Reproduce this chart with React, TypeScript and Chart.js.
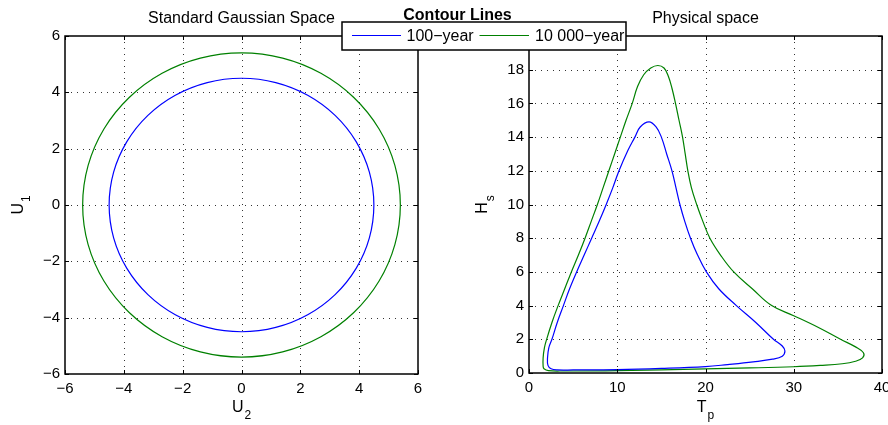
import { useEffect, useRef } from 'react';
import { Chart, registerables } from 'chart.js';

Chart.register(...registerables);

const W = 888;
const H = 425;
const FONT = "'Liberation Sans', Arial, Helvetica, sans-serif";

// Standard Gaussian space, 100-year contour (U2, U1), closed loop
const gauss100U2 = [4.5, 4.347, 3.897, 3.182, 2.25, 1.165, 0, -1.165, -2.25, -3.182, -3.897, -4.347, -4.5, -4.347, -3.897, -3.182, -2.25, -1.165, 0, 1.165, 2.25, 3.182, 3.897, 4.347];
const gauss100U1 = [0, 1.165, 2.25, 3.182, 3.897, 4.347, 4.5, 4.347, 3.897, 3.182, 2.25, 1.165, 0, -1.165, -2.25, -3.182, -3.897, -4.347, -4.5, -4.347, -3.897, -3.182, -2.25, -1.165];

// Standard Gaussian space, 10 000-year contour (U2, U1), closed loop
const gauss10kU2 = [5.4, 5.216, 4.677, 3.818, 2.7, 1.398, 0, -1.398, -2.7, -3.818, -4.677, -5.216, -5.4, -5.216, -4.677, -3.818, -2.7, -1.398, 0, 1.398, 2.7, 3.818, 4.677, 5.216];
const gauss10kU1 = [0, 1.398, 2.7, 3.818, 4.677, 5.216, 5.4, 5.216, 4.677, 3.818, 2.7, 1.398, 0, -1.398, -2.7, -3.818, -4.677, -5.216, -5.4, -5.216, -4.677, -3.818, -2.7, -1.398];

// Physical space, 100-year contour (Tp, Hs), closed loop
const phys100Tp = [2.15, 2.1, 2.25, 2.6, 3.2, 3.9, 4.6, 5.4, 6.25, 7.1, 7.95, 8.75, 9.5, 10.2, 11.2, 12.0, 12.6, 13.6, 14.4, 15.0, 15.6, 16.2, 16.65, 17.1, 17.65, 18.3, 19.1, 20.1, 21.5, 23.5, 25.7, 27.7, 28.7, 29.0, 28.7, 27.6, 25.4, 22.5, 20.0, 15.0, 10.0, 5.0, 3.2, 2.5];
const phys100Hs = [0.45, 0.9, 1.5, 2.0, 3.0, 4.0, 5.0, 6.0, 7.0, 8.0, 9.0, 10.0, 11.0, 12.0, 13.2, 14.0, 14.6, 14.9, 14.6, 14.0, 13.0, 12.0, 11.0, 10.0, 9.0, 8.0, 7.0, 6.0, 5.0, 4.0, 3.0, 2.0, 1.6, 1.3, 1.0, 0.82, 0.66, 0.5, 0.38, 0.27, 0.2, 0.18, 0.18, 0.25];

// Physical space, 10 000-year contour (Tp, Hs), closed loop
const phys10kTp = [1.6, 1.6, 1.75, 2.0, 2.6, 3.3, 4.05, 4.8, 5.6, 6.35, 7.05, 7.75, 8.4, 9.05, 9.7, 10.35, 11.0, 11.7, 12.3, 13.0, 13.8, 14.6, 15.3, 15.8, 16.2, 16.6, 17.0, 17.4, 17.7, 18.0, 18.4, 19.0, 19.7, 20.5, 21.7, 23.2, 25.3, 27.5, 30.0, 32.8, 35.3, 37.0, 37.9, 37.8, 37.0, 35.5, 33.0, 30.0, 25.0, 20.0, 10.0, 4.0, 2.2, 1.7];
const phys10kHs = [0.4, 0.9, 1.5, 2.0, 3.0, 4.0, 5.0, 6.0, 7.0, 8.0, 9.0, 10.0, 11.0, 12.0, 13.0, 14.0, 15.0, 16.0, 17.0, 17.7, 18.1, 18.25, 18.1, 17.6, 16.9, 16.0, 15.0, 14.0, 13.0, 12.0, 11.0, 10.0, 9.0, 8.0, 7.0, 6.0, 5.0, 4.0, 3.4, 2.7, 2.0, 1.55, 1.2, 0.9, 0.7, 0.55, 0.45, 0.37, 0.3, 0.25, 0.14, 0.12, 0.14, 0.25];

const seriesNames = ['100\u2212year', '10 000\u2212year'];
const seriesColors = ['#0000ff', '#008000'];
const legendTitle = 'Contour Lines';

const gaussTicks = [-6, -4, -2, 0, 2, 4, 6];
const tpTicks = [0, 10, 20, 30, 40];
const hsTicks = [0, 2, 4, 6, 8, 10, 12, 14, 16, 18, 20];

type Area = { left: number; right: number; top: number; bottom: number };
type Panel = {
  title: string;
  xLabel: [string, string];
  yLabel: [string, string];
  area: Area;
  xTicks: number[];
  yTicks: number[];
  series: { x: number[]; y: number[] }[];
  tension: number;
  yLabelX: number;
  drawLegend: boolean;
};

const panels: Panel[] = [
  {
    title: 'Standard Gaussian Space',
    xLabel: ['U', '2'],
    yLabel: ['U', '1'],
    area: { left: 65, right: 418, top: 36, bottom: 374 },
    xTicks: gaussTicks,
    yTicks: gaussTicks,
    series: [
      { x: gauss100U2, y: gauss100U1 },
      { x: gauss10kU2, y: gauss10kU1 },
    ],
    tension: 0.34,
    yLabelX: 23,
    drawLegend: false,
  },
  {
    title: 'Physical space',
    xLabel: ['T', 'p'],
    yLabel: ['H', 's'],
    area: { left: 529, right: 882, top: 36, bottom: 373 },
    xTicks: tpTicks,
    yTicks: hsTicks,
    series: [
      { x: phys100Tp, y: phys100Hs },
      { x: phys10kTp, y: phys10kHs },
    ],
    tension: 0.4,
    yLabelX: 487,
    drawLegend: true,
  },
];

function fmt(v: number) {
  return String(v).replace('-', '\u2212');
}

function drawSubLabel(
  ctx: CanvasRenderingContext2D,
  main: string,
  sub: string,
  cx: number,
  baseline: number,
  rotate: boolean
) {
  ctx.save();
  ctx.translate(cx, baseline);
  if (rotate) ctx.rotate(-Math.PI / 2);
  ctx.fillStyle = '#000';
  ctx.textAlign = 'left';
  ctx.textBaseline = 'alphabetic';
  ctx.font = `16px ${FONT}`;
  const wm = ctx.measureText(main).width;
  ctx.font = `12px ${FONT}`;
  const ws = ctx.measureText(sub).width;
  const x0 = -(wm + ws + 1) / 2;
  ctx.font = `16px ${FONT}`;
  ctx.fillText(main, x0, 0);
  ctx.font = `12px ${FONT}`;
  ctx.fillText(sub, x0 + wm + 1, 7);
  ctx.restore();
}

function drawLegend(ctx: CanvasRenderingContext2D) {
  ctx.save();
  ctx.font = `bold 16px ${FONT}`;
  ctx.fillStyle = '#000';
  ctx.textAlign = 'center';
  ctx.textBaseline = 'alphabetic';
  ctx.fillText(legendTitle, 457.5, 20);

  ctx.fillStyle = '#fff';
  ctx.fillRect(342, 22, 284, 28);
  ctx.strokeStyle = '#000';
  ctx.lineWidth = 1.5;
  ctx.strokeRect(342, 22, 284, 28);

  const entries = [
    { x0: 352, x1: 401, tx: 406.5 },
    { x0: 479.5, x1: 529, tx: 535 },
  ];
  ctx.font = `16px ${FONT}`;
  ctx.textAlign = 'left';
  entries.forEach((e, i) => {
    ctx.strokeStyle = seriesColors[i];
    ctx.lineWidth = 1;
    ctx.beginPath();
    ctx.moveTo(e.x0, 35.5);
    ctx.lineTo(e.x1, 35.5);
    ctx.stroke();
    ctx.fillStyle = '#000';
    ctx.fillText(seriesNames[i], e.tx, 41);
  });
  ctx.restore();
}

// Contours are closed curves: let the line element wrap its spline
function closeLoops(chart: any) {
  chart.data.datasets.forEach((_: any, i: number) => {
    const line = chart.getDatasetMeta(i).dataset;
    if (!line) return;
    line._loop = true;
    line._fullLoop = true;
    line._pointsUpdated = false;
    delete line._segments;
    delete line._path;
    if (typeof line.updateControlPoints === 'function') {
      line.updateControlPoints(chart.chartArea, 'x');
    }
  });
}

function makeFramePlugin(p: Panel) {
  return {
    id: 'frame',
    beforeDatasetsDraw(chart: any) {
      closeLoops(chart);
      const { ctx, chartArea: a, scales } = chart;
      const x = scales.x;
      const y = scales.y;
      ctx.save();
      ctx.strokeStyle = '#333';
      ctx.lineWidth = 1;
      ctx.setLineDash([1, 5]);
      for (const v of p.xTicks) {
        const px = Math.round(x.getPixelForValue(v)) + 0.5;
        if (px <= a.left + 2 || px >= a.right - 2) continue;
        ctx.beginPath();
        ctx.moveTo(px, a.top);
        ctx.lineTo(px, a.bottom);
        ctx.stroke();
      }
      for (const v of p.yTicks) {
        const py = Math.round(y.getPixelForValue(v)) + 0.5;
        if (py <= a.top + 2 || py >= a.bottom - 2) continue;
        ctx.beginPath();
        ctx.moveTo(a.left, py);
        ctx.lineTo(a.right, py);
        ctx.stroke();
      }
      ctx.restore();
    },
    afterDatasetsDraw(chart: any) {
      const { ctx, chartArea: a, scales } = chart;
      const x = scales.x;
      const y = scales.y;
      ctx.save();
      ctx.setLineDash([]);
      ctx.strokeStyle = '#000';
      ctx.lineWidth = 1;
      const tl = 4;
      for (const v of p.xTicks) {
        const px = Math.round(x.getPixelForValue(v)) + 0.5;
        ctx.beginPath();
        ctx.moveTo(px, a.bottom);
        ctx.lineTo(px, a.bottom - tl);
        ctx.moveTo(px, a.top);
        ctx.lineTo(px, a.top + tl);
        ctx.stroke();
      }
      for (const v of p.yTicks) {
        const py = Math.round(y.getPixelForValue(v)) + 0.5;
        ctx.beginPath();
        ctx.moveTo(a.left, py);
        ctx.lineTo(a.left + tl, py);
        ctx.moveTo(a.right, py);
        ctx.lineTo(a.right - tl, py);
        ctx.stroke();
      }
      ctx.lineWidth = 1.5;
      ctx.strokeRect(a.left, a.top, a.right - a.left, a.bottom - a.top);

      ctx.fillStyle = '#000';
      ctx.font = `16px ${FONT}`;
      ctx.textAlign = 'center';
      ctx.textBaseline = 'alphabetic';
      const cx = (a.left + a.right) / 2;
      const cy = (a.top + a.bottom) / 2;
      ctx.fillText(p.title, cx, 23);
      ctx.restore();

      drawSubLabel(ctx, p.xLabel[0], p.xLabel[1], cx, 412, false);
      drawSubLabel(ctx, p.yLabel[0], p.yLabel[1], p.yLabelX, cy, true);

      if (p.drawLegend) drawLegend(ctx);
    },
  };
}

function makeConfig(p: Panel): any {
  const a = p.area;
  const tickFont = { family: FONT, size: 15 };
  return {
    type: 'scatter',
    data: {
      datasets: p.series.map((s, i) => ({
        label: seriesNames[i],
        data: s.x.map((xv, k) => ({ x: xv, y: s.y[k] })),
        showLine: true,
        borderColor: seriesColors[i],
        backgroundColor: seriesColors[i],
        borderWidth: 1.2,
        pointRadius: 0,
        tension: p.tension,
        fill: false,
      })),
    },
    options: {
      responsive: false,
      animation: false,
      devicePixelRatio: 1,
      events: [],
      layout: {
        padding: { left: 0, top: a.top, right: W - a.right, bottom: 0 },
      },
      plugins: {
        legend: { display: false },
        title: { display: false },
        tooltip: { enabled: false },
      },
      scales: {
        x: {
          type: 'linear',
          min: p.xTicks[0],
          max: p.xTicks[p.xTicks.length - 1],
          grid: { display: false, drawTicks: false },
          border: { display: false },
          ticks: {
            color: '#000',
            font: tickFont,
            padding: 6,
            maxRotation: 0,
            autoSkip: false,
            callback: (v: number) => fmt(v),
          },
          afterBuildTicks: (s: any) => {
            s.ticks = p.xTicks.map((v) => ({ value: v }));
          },
          afterFit: (s: any) => {
            s.height = H - a.bottom;
            s.paddingLeft = 0;
            s.paddingRight = 0;
          },
        },
        y: {
          type: 'linear',
          min: p.yTicks[0],
          max: p.yTicks[p.yTicks.length - 1],
          grid: { display: false, drawTicks: false },
          border: { display: false },
          ticks: {
            color: '#000',
            font: tickFont,
            padding: 5,
            autoSkip: false,
            callback: (v: number) => fmt(v),
          },
          afterBuildTicks: (s: any) => {
            s.ticks = p.yTicks.map((v) => ({ value: v }));
          },
          afterFit: (s: any) => {
            s.width = a.left;
            s.paddingTop = 0;
            s.paddingBottom = 0;
          },
        },
      },
    },
    plugins: [makeFramePlugin(p)],
  };
}

export default function App() {
  const leftRef = useRef<HTMLCanvasElement>(null);
  const rightRef = useRef<HTMLCanvasElement>(null);

  useEffect(() => {
    const charts: Chart[] = [];
    [leftRef.current, rightRef.current].forEach((c, i) => {
      if (c) charts.push(new Chart(c, makeConfig(panels[i])));
    });
    return () => charts.forEach((c) => c.destroy());
  }, []);

  const canvasStyle: React.CSSProperties = { position: 'absolute', left: 0, top: 0 };
  return (
    <div style={{ position: 'fixed', left: 0, top: 0, width: W, height: H, background: '#fff', overflow: 'hidden' }}>
      <canvas ref={leftRef} width={W} height={H} style={canvasStyle} />
      <canvas ref={rightRef} width={W} height={H} style={canvasStyle} />
    </div>
  );
}
